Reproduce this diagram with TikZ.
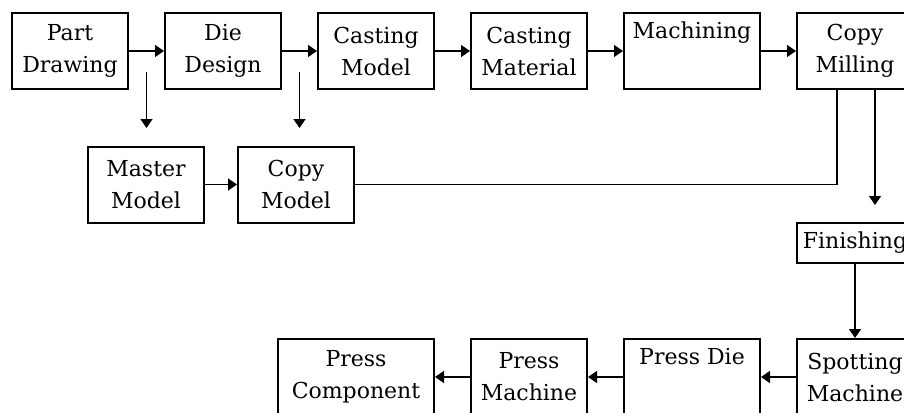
\documentclass[tikz,border=0pt]{standalone}
\usepackage{fontspec}
\setmainfont{DejaVu Serif}
\usetikzlibrary{arrows.meta, positioning, calc}

\begin{document}
\begin{tikzpicture}[
    >={Triangle[length=4.5pt, width=6pt]},
    box/.style={draw, line width=1pt, minimum width=58pt, minimum height=38pt, inner sep=2pt, align=center, font=\fontsize{11}{16}\selectfont},
    link/.style={line width=0.7pt},
    node distance=17.5pt,
]
    \clip (0,0) rectangle (452pt,-206pt);
    \node[box, anchor=west] (part) at (5.5pt,-25.5pt) {Part\\Drawing};
    \node[box, right=of part] (die) {Die\\Design};
    \node[box, right=of die] (castmodel) {Casting\\Model};
    \node[box, right=of castmodel] (castmat) {Casting\\Material};
    \node[box, minimum width=68pt, right=of castmat] (mach) {Machining\\\strut};
    \node[box, right=of mach] (milling) {Copy\\Milling};
    \node[box, anchor=west] (master) at (43.5pt,-92.25pt) {Master\\Model};
    \node[box, right=16pt of master] (copymodel) {Copy\\Model};
    \node[box, minimum height=20pt, below=66pt of milling] (finish) {Finishing};
    \node[box, below=37pt of finish] (spot) {Spotting\\Machine};
    \node[box, minimum width=68pt, left=of spot] (pdie) {Press Die\\\strut};
    \node[box, left=of pdie] (pmach) {Press\\Machine};
    \node[box, minimum width=78pt, left=of pmach] (pcomp) {Press\\Component};
    \coordinate (tap1) at ($(part.east)!0.5!(die.west)+(0,-10.5pt)$);
    \coordinate (tap1end) at ($(tap1)+(0,-28pt)$);
    \coordinate (tap2) at ($(die.east)!0.5!(castmodel.west)+(0,-10.5pt)$);
    \coordinate (tap2end) at ($(tap2)+(0,-28pt)$);
    \coordinate (back) at ($(milling.south)+(-9pt,0)$);
    \coordinate (mout) at ($(milling.south)+(10pt,0)$);
    \coordinate (moutend) at ($(mout)+(0,-57.5pt)$);
    \draw[->, link] (part) -- (die);
    \draw[->, link] (die) -- (castmodel);
    \draw[->, link] (castmodel) -- (castmat);
    \draw[->, link] (castmat) -- (mach);
    \draw[->, link] (mach) -- (milling);
    \draw[->, link] (tap1) -- (tap1end);
    \draw[->, link] (tap2) -- (tap2end);
    \draw[->, link] (master) -- (copymodel);
    \draw[link] (copymodel.east) -| (back);
    \draw[->, link] (mout) -- (moutend);
    \draw[->, link] (finish) -- (spot);
    \draw[->, link] (spot) -- (pdie);
    \draw[->, link] (pdie) -- (pmach);
    \draw[->, link] (pmach) -- (pcomp);
\end{tikzpicture}
\end{document}
